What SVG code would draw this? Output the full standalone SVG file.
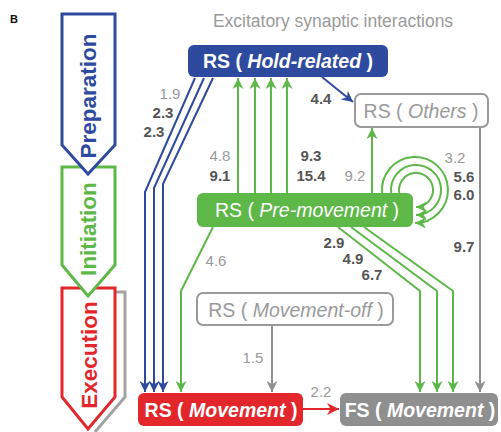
<svg xmlns="http://www.w3.org/2000/svg" width="501" height="432" viewBox="0 0 501 432">
<style>
text{font-family:"Liberation Sans",Arial,sans-serif}
.num{font-size:15px;text-anchor:middle}
.lt{fill:#9a9a9a}
.dk{fill:#555;font-weight:bold}
.nt{font-size:19.5px;text-anchor:middle}
.c{fill:none;stroke-width:2}
.b{stroke:#2E4A9E}
.g{stroke:#5DB848}
.gr{stroke:#8f8f8f}
.r{stroke:#E3262B}
.ph{stroke-width:3;fill:#fff}
.pt{font-size:22.5px;font-weight:bold;text-anchor:middle}
</style>
<defs>
<marker id="ab" viewBox="0 0 10 10" refX="10" refY="5" markerWidth="11" markerHeight="11" markerUnits="userSpaceOnUse" orient="auto"><path d="M0,0L10,5L0,10L3,5z" fill="#2E4A9E"/></marker>
<marker id="ag" viewBox="0 0 10 10" refX="10" refY="5" markerWidth="11" markerHeight="11" markerUnits="userSpaceOnUse" orient="auto"><path d="M0,0L10,5L0,10L3,5z" fill="#5DB848"/></marker>
<marker id="agr" viewBox="0 0 10 10" refX="10" refY="5" markerWidth="11" markerHeight="11" markerUnits="userSpaceOnUse" orient="auto"><path d="M0,0L10,5L0,10L3,5z" fill="#8f8f8f"/></marker>
<marker id="ar" viewBox="0 0 10 10" refX="10" refY="5" markerWidth="12" markerHeight="12" markerUnits="userSpaceOnUse" orient="auto"><path d="M0,0L10,5L0,10L3,5z" fill="#E3262B"/></marker>
</defs>
<rect width="501" height="432" fill="#fff"/>
<text x="10" y="23" font-size="11" font-weight="bold" fill="#111">B</text>
<text x="333" y="27" font-size="17.5" fill="#9a9a9a" text-anchor="middle">Excitatory synaptic interactions</text>

<g id="phases">
<g id="phase-execution">
<polyline points="115,292 125,292 125,397 95,432" fill="none" stroke="#a3a3a3" stroke-width="3"/>
<polygon class="ph" points="62,288 115,288 115,397 88,429 62,397" stroke="#E3262B"/>
<text class="pt" transform="translate(97,355) rotate(-90)" fill="#E3262B">Execution</text>
</g>
<g id="phase-initiation">
<polygon class="ph" points="62,167 115,167 115,265 88,296 62,265" stroke="#5DB848"/>
<text class="pt" transform="translate(96,229) rotate(-90)" fill="#5DB848">Initiation</text>
</g>
<g id="phase-preparation">
<polygon class="ph" points="62,14 115,14 115,145 88,174 62,145" stroke="#2E4A9E"/>
<text class="pt" transform="translate(96,96) rotate(-90)" fill="#2E4A9E">Preparation</text>
</g>
</g>

<g id="connectors">
<polyline class="c b" points="195,78 145,192 145,392" marker-end="url(#ab)"/>
<polyline class="c b" points="204,78 154,188 154,392" marker-end="url(#ab)"/>
<polyline class="c b" points="213,78 163,184 163,392" marker-end="url(#ab)"/>
<line class="c b" x1="322" y1="77" x2="353" y2="102" marker-end="url(#ab)"/>
<line class="c g" x1="238" y1="193" x2="238" y2="78" marker-end="url(#ag)"/>
<line class="c g" x1="255" y1="193" x2="255" y2="78" marker-end="url(#ag)"/>
<line class="c g" x1="271" y1="193" x2="271" y2="78" marker-end="url(#ag)"/>
<line class="c g" x1="287" y1="193" x2="287" y2="78" marker-end="url(#ag)"/>
<line class="c g" x1="372" y1="193" x2="372" y2="128" marker-end="url(#ag)"/>
<path class="c g" d="M382.1,193A33,33 0 1 1 415,223" marker-end="url(#ag)"/>
<path class="c g" d="M391.2,193A25,25 0 1 1 416,215" marker-end="url(#ag)"/>
<path class="c g" d="M399.3,193A17,17 0 1 1 416,207" marker-end="url(#ag)"/>
<polyline class="c g" points="213,227 181,291 181,392" marker-end="url(#ag)"/>
<polyline class="c g" points="338,227 420,291 420,392" marker-end="url(#ag)"/>
<polyline class="c g" points="351,227 437,291 437,392" marker-end="url(#ag)"/>
<polyline class="c g" points="364,227 453,291 453,392" marker-end="url(#ag)"/>
<line class="c gr" x1="480" y1="127" x2="480" y2="392" marker-end="url(#agr)"/>
<line class="c gr" x1="272" y1="325" x2="272" y2="392" marker-end="url(#agr)"/>
<line class="c r" x1="303" y1="409" x2="339" y2="409" stroke-width="2.2" marker-end="url(#ar)"/>
</g>

<g id="labels">
<text class="num lt" x="170" y="99">1.9</text>
<text class="num dk" x="163" y="118">2.3</text>
<text class="num dk" x="154" y="137">2.3</text>
<text class="num dk" x="321" y="104">4.4</text>
<text class="num lt" x="220" y="161">4.8</text>
<text class="num dk" x="220" y="181">9.1</text>
<text class="num dk" x="311" y="161">9.3</text>
<text class="num dk" x="311" y="181">15.4</text>
<text class="num lt" x="355" y="181">9.2</text>
<text class="num lt" x="455" y="163">3.2</text>
<text class="num dk" x="464" y="182">5.6</text>
<text class="num dk" x="464" y="200">6.0</text>
<text class="num dk" x="464" y="252">9.7</text>
<text class="num dk" x="334" y="248">2.9</text>
<text class="num dk" x="353" y="264">4.9</text>
<text class="num dk" x="372" y="280">6.7</text>
<text class="num lt" x="216" y="266">4.6</text>
<text class="num lt" x="253" y="363">1.5</text>
<text class="num lt" x="321" y="397">2.2</text>
</g>

<g id="node-hold">
<rect x="188" y="45" width="200" height="32" rx="6" fill="#2E4A9E"/>
<text class="nt" x="288" y="68" fill="#fff" font-weight="bold">RS ( <tspan font-style="italic">Hold-related</tspan> )</text>
</g>
<g id="node-others">
<rect x="355" y="94" width="133" height="33" rx="6" fill="#fff" stroke="#9a9a9a" stroke-width="2"/>
<text class="nt" x="421" y="118" fill="#9a9a9a">RS ( <tspan font-style="italic">Others</tspan> )</text>
</g>
<g id="node-premovement">
<rect x="197" y="193" width="216" height="34" rx="6" fill="#5DB848"/>
<text class="nt" x="307" y="217" fill="#fff" font-size="20">RS ( <tspan font-style="italic">Pre-movement</tspan> )</text>
</g>
<g id="node-movementoff">
<rect x="197" y="293" width="196" height="32" rx="6" fill="#fff" stroke="#9a9a9a" stroke-width="2"/>
<text class="nt" x="296" y="317" fill="#9a9a9a">RS ( <tspan font-style="italic">Movement-off</tspan> )</text>
</g>
<g id="node-rs-movement">
<rect x="138" y="393" width="165" height="33" rx="6" fill="#E3262B"/>
<text class="nt" x="221" y="417" fill="#fff" font-weight="bold">RS ( <tspan font-style="italic">Movement</tspan> )</text>
</g>
<g id="node-fs-movement">
<rect x="340" y="393" width="158" height="33" rx="6" fill="#8f8f8f"/>
<text class="nt" x="420" y="417" fill="#fff" font-weight="bold">FS ( <tspan font-style="italic">Movement</tspan> )</text>
</g>
</svg>
